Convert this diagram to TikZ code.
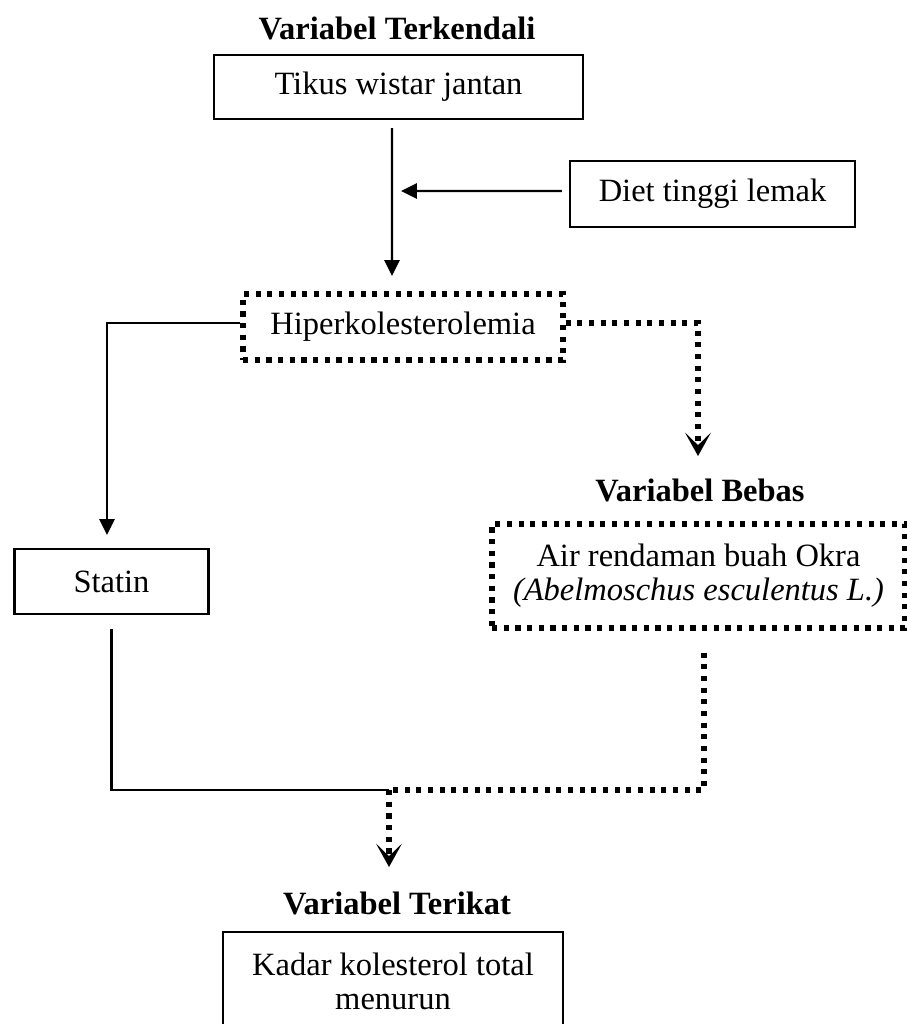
\documentclass[tikz,border=0pt]{standalone}
\usepackage{fontspec}
\setmainfont{Liberation Serif}
\usetikzlibrary{arrows.meta}

\begin{document}
\begin{tikzpicture}[x=0.6pt,y=-0.6pt,font=\fontsize{19.5}{20.5}\selectfont,
    box/.style={draw,line width=1.3pt,inner sep=0pt,align=center},
    dotbox/.style={draw,line width=3.1pt,dash pattern=on 3.1pt off 3.9pt,inner sep=0pt,align=center},
    judul/.style={font=\fontsize{19.5}{20.5}\selectfont\bfseries},
    arr/.style={line width=1.3pt,-{Triangle[length=9.5pt,width=9pt]}},
    dotline/.style={line width=3.1pt,dash pattern=on 3.1pt off 3.9pt},
    dotarr/.style={dotline,-{Stealth[length=14pt,width=15.5pt,inset=7.5pt]}}]
    \path[use as bounding box,fill=white] (0,0) rectangle (907,1024);
    \node[judul] (tkendali) at (397,28) {Variabel Terkendali};
    \node[box,minimum width=221.4pt,minimum height=38.4pt] (tikus) at (398.5,87) {Tikus wistar jantan};
    \node[box,minimum width=171pt,minimum height=39.6pt] (diet) at (712.5,194) {Diet tinggi lemak};
    \node[dotbox,minimum width=192pt,minimum height=39.6pt] (hiper) at (403,327) {Hiperkolesterolemia};
    \node[box,minimum width=116.4pt,minimum height=39pt] (statin) at (111.5,581.5) {Statin};
    \node[judul] (tbebas) at (700,490) {Variabel Bebas};
    \node[dotbox,minimum width=247.8pt,minimum height=62.4pt] (okra) at (698.5,576) {Air rendaman buah Okra\\\textit{(Abelmoschus esculentus L.)}};
    \node[judul] (tterikat) at (397,903) {Variabel Terikat};
    \node[box,minimum width=204pt,minimum height=58.8pt] (kadar) at (393,981) {Kadar kolesterol total\\menurun};
    \coordinate (dietin) at (401,191);
    \coordinate (hiperin) at (392,276);
    \coordinate (statinin) at (107,535);
    \coordinate (okrain) at (698,456);
    \coordinate (temu) at (389,790);
    \coordinate (kadarin) at (389,867);
    \draw[arr] ([xshift=-3.9pt,yshift=-4.8pt]tikus.south) -- (hiperin);
    \draw[arr] ([xshift=-4.2pt,yshift=1.8pt]diet.west) -- (dietin);
    \draw[arr] ([yshift=2.4pt]hiper.west) -| (statinin);
    \draw[dotarr] ([yshift=2.4pt]hiper.east) -| (okrain);
    \draw[line width=1.3pt] ([yshift=-8.4pt]statin.south) |- (temu);
    \draw[dotline] ([xshift=3.3pt,yshift=-13.2pt]okra.south) |- (temu);
    \draw[dotarr] (temu) -- (kadarin);
\end{tikzpicture}
\end{document}
